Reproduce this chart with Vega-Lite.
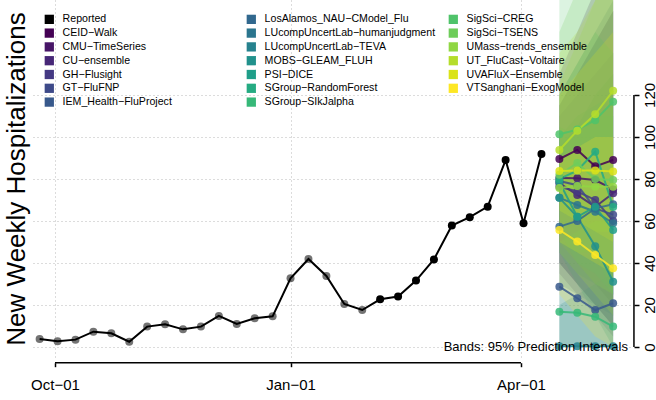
{
  "$schema": "https://vega.github.io/schema/vega-lite/v6.json",
  "width": 598,
  "height": 358,
  "autosize": {"type": "none"},
  "padding": {"left": 32, "top": 0, "right": 26, "bottom": 42},
  "background": "white",
  "title": {"text": "New Weekly Hospitalizations", "orient": "left", "anchor": "middle", "fontSize": 26, "font": "Liberation Sans", "fontWeight": "normal", "color": "black", "offset": 1},
  "config": {
    "view": {"stroke": null},
    "font": "Liberation Sans"
  },
  "datasets": {
    "reported": [
      {"date": "2021-09-25", "value": 3.8, "period": "earlier"},
      {"date": "2021-10-02", "value": 2.7, "period": "earlier"},
      {"date": "2021-10-09", "value": 3.5, "period": "earlier"},
      {"date": "2021-10-16", "value": 7.3, "period": "earlier"},
      {"date": "2021-10-23", "value": 6.5, "period": "earlier"},
      {"date": "2021-10-30", "value": 2.5, "period": "earlier"},
      {"date": "2021-11-06", "value": 9.7, "period": "earlier"},
      {"date": "2021-11-13", "value": 10.8, "period": "earlier"},
      {"date": "2021-11-20", "value": 8.4, "period": "earlier"},
      {"date": "2021-11-27", "value": 9.7, "period": "earlier"},
      {"date": "2021-12-04", "value": 14.8, "period": "earlier"},
      {"date": "2021-12-11", "value": 11, "period": "earlier"},
      {"date": "2021-12-18", "value": 13.7, "period": "earlier"},
      {"date": "2021-12-25", "value": 14.6, "period": "earlier"},
      {"date": "2022-01-01", "value": 32.7, "period": "earlier"},
      {"date": "2022-01-08", "value": 41.9, "period": "earlier"},
      {"date": "2022-01-15", "value": 33.8, "period": "earlier"},
      {"date": "2022-01-22", "value": 20.5, "period": "earlier"},
      {"date": "2022-01-29", "value": 17.6, "period": "earlier"},
      {"date": "2022-02-05", "value": 22.7, "period": "recent"},
      {"date": "2022-02-12", "value": 24, "period": "recent"},
      {"date": "2022-02-19", "value": 31.6, "period": "recent"},
      {"date": "2022-02-26", "value": 41.7, "period": "recent"},
      {"date": "2022-03-05", "value": 57.8, "period": "recent"},
      {"date": "2022-03-12", "value": 61.8, "period": "recent"},
      {"date": "2022-03-19", "value": 66.8, "period": "recent"},
      {"date": "2022-03-26", "value": 89, "period": "recent"},
      {"date": "2022-04-02", "value": 58.9, "period": "recent"},
      {"date": "2022-04-09", "value": 91.9, "period": "recent"}
    ],
    "forecast": [
      {"model": "CEID−Walk", "date": "2022-04-16", "med": 89.5, "lo": 50, "hi": 130},
      {"model": "CEID−Walk", "date": "2022-04-23", "med": 93.8, "lo": 40, "hi": 150},
      {"model": "CEID−Walk", "date": "2022-04-30", "med": 86, "lo": 30, "hi": 170},
      {"model": "CEID−Walk", "date": "2022-05-07", "med": 89, "lo": 20, "hi": 190},
      {"model": "CMU−TimeSeries", "date": "2022-04-16", "med": 80.5, "lo": 40, "hi": 115},
      {"model": "CMU−TimeSeries", "date": "2022-04-23", "med": 80.3, "lo": 30, "hi": 130},
      {"model": "CMU−TimeSeries", "date": "2022-04-30", "med": 79.5, "lo": 20, "hi": 145},
      {"model": "CMU−TimeSeries", "date": "2022-05-07", "med": 75, "lo": 10, "hi": 160},
      {"model": "CU−ensemble", "date": "2022-04-16", "med": 78, "lo": 35, "hi": 115},
      {"model": "CU−ensemble", "date": "2022-04-23", "med": 72.4, "lo": 25, "hi": 130},
      {"model": "CU−ensemble", "date": "2022-04-30", "med": 66.8, "lo": 15, "hi": 145},
      {"model": "CU−ensemble", "date": "2022-05-07", "med": 73.2, "lo": 5, "hi": 160},
      {"model": "GH−Flusight", "date": "2022-04-16", "med": 76.3, "lo": 40, "hi": 110},
      {"model": "GH−Flusight", "date": "2022-04-23", "med": 74, "lo": 30, "hi": 120},
      {"model": "GH−Flusight", "date": "2022-04-30", "med": 70, "lo": 20, "hi": 130},
      {"model": "GH−Flusight", "date": "2022-05-07", "med": 60, "lo": 10, "hi": 140},
      {"model": "GT−FluFNP", "date": "2022-04-16", "med": 79, "lo": 40, "hi": 120},
      {"model": "GT−FluFNP", "date": "2022-04-23", "med": 77, "lo": 30, "hi": 135},
      {"model": "GT−FluFNP", "date": "2022-04-30", "med": 66, "lo": 20, "hi": 150},
      {"model": "GT−FluFNP", "date": "2022-05-07", "med": 63, "lo": 10, "hi": 165},
      {"model": "IEM_Health−FluProject", "date": "2022-04-16", "med": 28.7, "lo": 0, "hi": 70},
      {"model": "IEM_Health−FluProject", "date": "2022-04-23", "med": 23.2, "lo": 0, "hi": 75},
      {"model": "IEM_Health−FluProject", "date": "2022-04-30", "med": 17.6, "lo": 0, "hi": 80},
      {"model": "IEM_Health−FluProject", "date": "2022-05-07", "med": 20.8, "lo": 0, "hi": 85},
      {"model": "LosAlamos_NAU−CModel_Flu", "date": "2022-04-16", "med": 57.3, "lo": 30, "hi": 95},
      {"model": "LosAlamos_NAU−CModel_Flu", "date": "2022-04-23", "med": 60, "lo": 25, "hi": 105},
      {"model": "LosAlamos_NAU−CModel_Flu", "date": "2022-04-30", "med": 66, "lo": 20, "hi": 120},
      {"model": "LosAlamos_NAU−CModel_Flu", "date": "2022-05-07", "med": 68, "lo": 15, "hi": 130},
      {"model": "LUcompUncertLab−humanjudgment", "date": "2022-04-16", "med": 71, "lo": 45, "hi": 100},
      {"model": "LUcompUncertLab−humanjudgment", "date": "2022-04-23", "med": 67.6, "lo": 35, "hi": 110},
      {"model": "LUcompUncertLab−humanjudgment", "date": "2022-04-30", "med": 64.4, "lo": 30, "hi": 115},
      {"model": "LUcompUncertLab−humanjudgment", "date": "2022-05-07", "med": 58.9, "lo": 25, "hi": 120},
      {"model": "LUcompUncertLab−TEVA", "date": "2022-04-16", "med": 0.3, "lo": 0, "hi": 20},
      {"model": "LUcompUncertLab−TEVA", "date": "2022-04-23", "med": 0.3, "lo": 0, "hi": 25},
      {"model": "LUcompUncertLab−TEVA", "date": "2022-04-30", "med": 0.3, "lo": 0, "hi": 30},
      {"model": "LUcompUncertLab−TEVA", "date": "2022-05-07", "med": 0.3, "lo": 0, "hi": 35},
      {"model": "MOBS−GLEAM_FLUH", "date": "2022-04-16", "med": 71, "lo": 45, "hi": 100},
      {"model": "MOBS−GLEAM_FLUH", "date": "2022-04-23", "med": 62, "lo": 30, "hi": 105},
      {"model": "MOBS−GLEAM_FLUH", "date": "2022-04-30", "med": 48, "lo": 15, "hi": 110},
      {"model": "MOBS−GLEAM_FLUH", "date": "2022-05-07", "med": 31.1, "lo": 0, "hi": 115},
      {"model": "PSI−DICE", "date": "2022-04-16", "med": 78.5, "lo": 55, "hi": 105},
      {"model": "PSI−DICE", "date": "2022-04-23", "med": 62, "lo": 40, "hi": 100},
      {"model": "PSI−DICE", "date": "2022-04-30", "med": 66.8, "lo": 35, "hi": 110},
      {"model": "PSI−DICE", "date": "2022-05-07", "med": 55.7, "lo": 25, "hi": 110},
      {"model": "SGroup−RandomForest", "date": "2022-04-16", "med": 80, "lo": 50, "hi": 120},
      {"model": "SGroup−RandomForest", "date": "2022-04-23", "med": 84, "lo": 45, "hi": 135},
      {"model": "SGroup−RandomForest", "date": "2022-04-30", "med": 93, "lo": 45, "hi": 150},
      {"model": "SGroup−RandomForest", "date": "2022-05-07", "med": 66.7, "lo": 25, "hi": 140},
      {"model": "SGroup−SIkJalpha", "date": "2022-04-16", "med": 16.8, "lo": 0, "hi": 50},
      {"model": "SGroup−SIkJalpha", "date": "2022-04-23", "med": 16.3, "lo": 0, "hi": 55},
      {"model": "SGroup−SIkJalpha", "date": "2022-04-30", "med": 14.4, "lo": 0, "hi": 60},
      {"model": "SGroup−SIkJalpha", "date": "2022-05-07", "med": 9.7, "lo": 0, "hi": 60},
      {"model": "SigSci−CREG", "date": "2022-04-16", "med": 101.3, "lo": 65, "hi": 170},
      {"model": "SigSci−CREG", "date": "2022-04-23", "med": 103.5, "lo": 60, "hi": 190},
      {"model": "SigSci−CREG", "date": "2022-04-30", "med": 108, "lo": 55, "hi": 210},
      {"model": "SigSci−CREG", "date": "2022-05-07", "med": 116.8, "lo": 55, "hi": 230},
      {"model": "SigSci−TSENS", "date": "2022-04-16", "med": 82, "lo": 50, "hi": 150},
      {"model": "SigSci−TSENS", "date": "2022-04-23", "med": 87.6, "lo": 40, "hi": 170},
      {"model": "SigSci−TSENS", "date": "2022-04-30", "med": 80, "lo": 30, "hi": 190},
      {"model": "SigSci−TSENS", "date": "2022-05-07", "med": 79.5, "lo": 25, "hi": 210},
      {"model": "UMass−trends_ensemble", "date": "2022-04-16", "med": 75.7, "lo": 45, "hi": 125},
      {"model": "UMass−trends_ensemble", "date": "2022-04-23", "med": 76.7, "lo": 35, "hi": 145},
      {"model": "UMass−trends_ensemble", "date": "2022-04-30", "med": 76.3, "lo": 25, "hi": 165},
      {"model": "UMass−trends_ensemble", "date": "2022-05-07", "med": 76.3, "lo": 15, "hi": 185},
      {"model": "UT_FluCast−Voltaire", "date": "2022-04-16", "med": 93.8, "lo": 65, "hi": 140},
      {"model": "UT_FluCast−Voltaire", "date": "2022-04-23", "med": 103, "lo": 60, "hi": 150},
      {"model": "UT_FluCast−Voltaire", "date": "2022-04-30", "med": 110.8, "lo": 55, "hi": 165},
      {"model": "UT_FluCast−Voltaire", "date": "2022-05-07", "med": 122, "lo": 50, "hi": 175},
      {"model": "UVAFluX−Ensemble", "date": "2022-04-16", "med": 83.8, "lo": 50, "hi": 120},
      {"model": "UVAFluX−Ensemble", "date": "2022-04-23", "med": 84, "lo": 45, "hi": 130},
      {"model": "UVAFluX−Ensemble", "date": "2022-04-30", "med": 84, "lo": 40, "hi": 140},
      {"model": "UVAFluX−Ensemble", "date": "2022-05-07", "med": 83.5, "lo": 35, "hi": 150},
      {"model": "VTSanghani−ExogModel", "date": "2022-04-16", "med": 55.7, "lo": 25, "hi": 90},
      {"model": "VTSanghani−ExogModel", "date": "2022-04-23", "med": 50.2, "lo": 15, "hi": 95},
      {"model": "VTSanghani−ExogModel", "date": "2022-04-30", "med": 43.8, "lo": 5, "hi": 100},
      {"model": "VTSanghani−ExogModel", "date": "2022-05-07", "med": 37.5, "lo": 0, "hi": 100}
    ]
  },
  "layer": [
    {
      "data": {"name": "forecast"},
      "mark": {"type": "area", "clip": true, "fillOpacity": 0.2, "strokeWidth": 0},
      "encoding": {
        "x": {
          "field": "date", "type": "temporal",
          "scale": {"type": "utc", "domain": [{"year": 2021, "month": 9, "date": 22, "hours": 0, "minutes": 30, "utc": true}, {"year": 2022, "month": 5, "date": 13, "hours": 14, "utc": true}], "nice": false},
          "axis": {
            "orient": "bottom", "title": null,
            "values": [{"year": 2021, "month": 10, "date": 1, "utc": true}, {"year": 2022, "month": 1, "date": 1, "utc": true}, {"year": 2022, "month": 4, "date": 1, "utc": true}],
            "labelExpr": "utcFormat(datum.value, '%b') + '−' + utcFormat(datum.value, '%d')",
            "domain": false, "offset": 4.7, "ticks": true, "tickSize": 4, "tickColor": "black", "tickWidth": 1.5,
            "labelFontSize": 15, "labelColor": "black", "labelPadding": 11, "labelFont": "Liberation Sans",
            "grid": true, "gridDash": [1, 3], "gridColor": "#b8b8b8", "gridWidth": 1
          }
        },
        "y": {
          "field": "lo", "type": "quantitative", "stack": null,
          "scale": {"domain": [-5.24, 165.2], "nice": false, "zero": false},
          "axis": {
            "orient": "right", "title": null,
            "values": [0, 20, 40, 60, 80, 100, 120],
            "domain": false, "offset": 4, "ticks": true, "tickSize": 5, "tickColor": "black", "tickWidth": 1.5,
            "labelAngle": 270, "labelAlign": "center", "labelBaseline": "top", "labelPadding": 3,
            "labelFontSize": 15, "labelColor": "black", "labelFont": "Liberation Sans",
            "grid": true, "gridDash": [1, 3], "gridColor": "#b8b8b8", "gridWidth": 1
          }
        },
        "y2": {"field": "hi"},
        "color": {
          "field": "model", "type": "nominal",
          "scale": {
            "domain": ["Reported", "CEID−Walk", "CMU−TimeSeries", "CU−ensemble", "GH−Flusight", "GT−FluFNP", "IEM_Health−FluProject", "LosAlamos_NAU−CModel_Flu", "LUcompUncertLab−humanjudgment", "LUcompUncertLab−TEVA", "MOBS−GLEAM_FLUH", "PSI−DICE", "SGroup−RandomForest", "SGroup−SIkJalpha", "SigSci−CREG", "SigSci−TSENS", "UMass−trends_ensemble", "UT_FluCast−Voltaire", "UVAFluX−Ensemble", "VTSanghani−ExogModel"],
            "range": ["#000000", "#440154", "#471567", "#472777", "#443983", "#3E4A89", "#38598C", "#31688E", "#2B758E", "#26828E", "#21918C", "#1F9E89", "#25AB82", "#36B878", "#4FC36A", "#6ECD5A", "#90D743", "#B5DD2B", "#DAE319", "#FDE725"]
          },
          "legend": {
            "orient": "none", "legendX": 12, "legendY": 14, "title": null, "padding": 0,
            "columns": 3, "gridAlign": "all", "columnPadding": 12, "rowPadding": 2.8,
            "labelFontSize": 10.6, "labelFont": "Liberation Sans", "labelColor": "black", "labelOffset": 8, "labelLimit": 300,
            "symbolType": "square", "symbolSize": 86, "symbolStrokeWidth": 0, "symbolOpacity": 1,
            "encode": {"symbols": {"update": {"fill": {"scale": "color", "field": "value"}, "stroke": {"value": "transparent"}, "opacity": {"value": 1}, "fillOpacity": {"value": 1}}}}
          }
        }
      }
    },
    {
      "data": {"name": "reported"},
      "mark": {"type": "line", "strokeWidth": 2, "color": "black"},
      "encoding": {
        "x": {"field": "date", "type": "temporal"},
        "y": {"field": "value", "type": "quantitative"},
        "color": {"datum": "Reported", "type": "nominal"}
      }
    },
    {
      "data": {"name": "reported"},
      "mark": {"type": "circle", "size": 64, "color": "black"},
      "encoding": {
        "x": {"field": "date", "type": "temporal"},
        "y": {"field": "value", "type": "quantitative"},
        "opacity": {"field": "period", "type": "nominal", "scale": {"domain": ["earlier", "recent"], "range": [0.55, 1]}, "legend": null}
      }
    },
    {
      "data": {"name": "forecast"},
      "mark": {"type": "line", "strokeWidth": 2, "opacity": 0.85},
      "encoding": {
        "x": {"field": "date", "type": "temporal"},
        "y": {"field": "med", "type": "quantitative"},
        "color": {"field": "model", "type": "nominal"}
      }
    },
    {
      "data": {"name": "forecast"},
      "mark": {"type": "circle", "size": 64, "opacity": 0.85},
      "encoding": {
        "x": {"field": "date", "type": "temporal"},
        "y": {"field": "med", "type": "quantitative"},
        "color": {"field": "model", "type": "nominal"}
      }
    },
    {
      "data": {"values": [{"kind": "x-axis line"}]},
      "mark": {"type": "rule", "color": "black", "strokeWidth": 1.5},
      "encoding": {
        "x": {"datum": {"year": 2021, "month": 10, "date": 1, "utc": true}, "type": "temporal"},
        "x2": {"datum": {"year": 2022, "month": 4, "date": 1, "utc": true}},
        "y": {"datum": -7.48, "type": "quantitative"}
      }
    },
    {
      "data": {"values": [{"kind": "y-axis line"}]},
      "mark": {"type": "rule", "color": "black", "strokeWidth": 1.5},
      "encoding": {
        "x": {"datum": {"year": 2022, "month": 5, "date": 15, "hours": 3, "utc": true}, "type": "temporal"},
        "y": {"datum": 0, "type": "quantitative"},
        "y2": {"datum": 120}
      }
    },
    {
      "data": {"values": [{"label": "Bands: 95% Prediction Intervals"}]},
      "mark": {"type": "text", "align": "right", "baseline": "middle", "fontSize": 13, "font": "Liberation Sans", "color": "black"},
      "encoding": {
        "x": {"datum": {"year": 2022, "month": 5, "date": 12, "hours": 19, "utc": true}, "type": "temporal"},
        "y": {"datum": 0, "type": "quantitative"},
        "text": {"field": "label"}
      }
    }
  ]
}
